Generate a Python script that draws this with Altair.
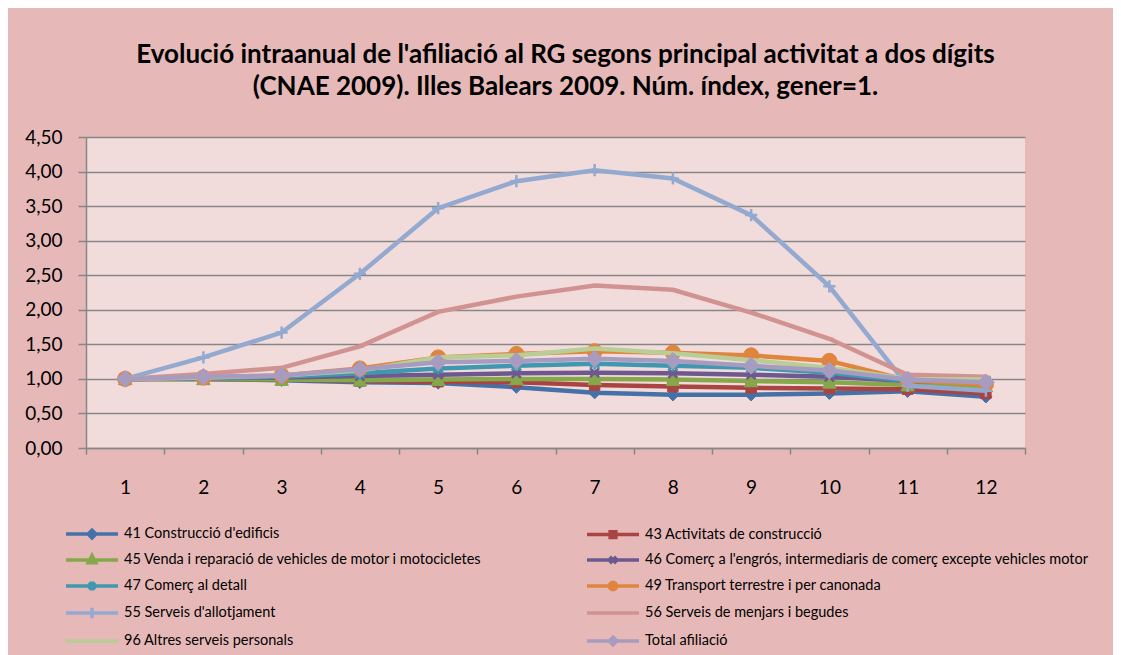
import altair as alt
import pandas as pd

months = [str(m) for m in range(1, 13)]

series_names = [
    "41 Construcció d'edificis",
    "43 Activitats de construcció",
    "45 Venda i reparació de vehicles de motor i motocicletes",
    "46 Comerç a l'engrós, intermediaris de comerç excepte vehicles motor",
    "47 Comerç al detall",
    "49 Transport terrestre i per canonada",
    "55 Serveis d'allotjament",
    "56 Serveis de menjars i begudes",
    "96 Altres serveis personals",
    "Total afiliació",
]

s41 = [1.00, 1.00, 0.98, 0.95, 0.94, 0.88, 0.80, 0.77, 0.77, 0.79, 0.82, 0.74]
s43 = [1.00, 1.00, 0.99, 0.97, 0.96, 0.95, 0.91, 0.89, 0.87, 0.86, 0.85, 0.79]
s45 = [1.00, 1.00, 0.99, 0.98, 0.99, 1.00, 1.00, 0.99, 0.97, 0.95, 0.91, 0.90]
s46 = [1.00, 1.01, 1.02, 1.04, 1.06, 1.08, 1.09, 1.08, 1.06, 1.03, 0.97, 0.95]
s47 = [1.00, 1.01, 1.03, 1.08, 1.15, 1.19, 1.22, 1.19, 1.16, 1.09, 0.97, 0.97]
s49 = [1.00, 1.02, 1.05, 1.15, 1.31, 1.36, 1.40, 1.38, 1.34, 1.26, 0.98, 0.92]
s55 = [1.00, 1.31, 1.67, 2.52, 3.47, 3.86, 4.02, 3.90, 3.37, 2.34, 0.90, 0.83]
s56 = [1.00, 1.07, 1.16, 1.47, 1.97, 2.19, 2.35, 2.29, 1.96, 1.58, 1.06, 1.03]
s96 = [1.00, 1.02, 1.05, 1.12, 1.31, 1.34, 1.44, 1.37, 1.27, 1.16, 1.00, 0.99]
total = [1.00, 1.03, 1.05, 1.14, 1.24, 1.26, 1.29, 1.26, 1.19, 1.12, 0.99, 0.95]

series_values = [s41, s43, s45, s46, s47, s49, s55, s56, s96, total]

colors = ["#4472A8", "#A94442", "#86A74A", "#6D5890", "#4098B0",
          "#E0853E", "#93A9CF", "#D19392", "#B9CD96", "#A89BC0"]

y_ticks = [0, 0.5, 1.0, 1.5, 2.0, 2.5, 3.0, 3.5, 4.0, 4.5]

# marker style per series on the plot: (shape, filled, size)
markers = [
    ("diamond", True, 150),
    ("square", True, 110),
    ("triangle-up", True, 180),
    ("M-1,-1L1,1M-1,1L1,-1", False, 80),
    ("M-1,-1L1,1M-1,1L1,-1M0,-1.3L0,1.3", False, 80),
    ("circle", True, 230),
    ("M0,-1L0,1M-1,0L1,0", False, 150),
    ("M-1,0L1,0", False, 70),
    (None, True, 0),
    ("diamond", True, 280),
]

# legend symbols: line segment plus a small marker
LINE = "M-2,0L2,0"
legend_shapes = [
    LINE + "M0,-0.3L0.3,0L0,0.3L-0.3,0Z",
    LINE + "M-0.22,-0.22L0.22,-0.22L0.22,0.22L-0.22,0.22Z",
    LINE + "M0,-0.35L0.3,0.22L-0.3,0.22Z",
    LINE + "M-0.25,-0.25L0.25,0.25M-0.25,0.25L0.25,-0.25",
    LINE + "M-0.25,-0.25L0.25,0.25M-0.25,0.25L0.25,-0.25M0,-0.35L0,0.35",
    LINE + "M-0.28,0A0.28,0.28 0 1,0 0.28,0A0.28,0.28 0 1,0 -0.28,0Z",
    LINE + "M0,-0.4L0,0.4",
    LINE,
    LINE,
    LINE + "M0,-0.3L0.3,0L0,0.3L-0.3,0Z",
]

rows = []
for name, vals in zip(series_names, series_values):
    for m, v in zip(months, vals):
        rows.append({"series": name, "month": m, "value": v})
df = pd.DataFrame(rows)

FONT = "Lato"
GRID = "#868686"

x_enc = alt.X(
    "month:N",
    sort=months,
    scale=alt.Scale(type="band", paddingInner=0, paddingOuter=0),
    axis=alt.Axis(title=None, labelAngle=0, tickBand="extent", tickSize=6,
                  labelPadding=24, labelFontSize=19, labelFont=FONT,
                  labelColor="black", tickColor=GRID, domainColor=GRID,
                  domainWidth=1.5, tickWidth=1.5, grid=False),
)
y_enc = alt.Y(
    "value:Q",
    scale=alt.Scale(domain=[0, 4.5], nice=False),
    axis=alt.Axis(title=None, values=y_ticks,
                  labelExpr="replace(format(datum.value, '.2f'), '.', ',')",
                  labelFontSize=19, labelFont=FONT, labelColor="black",
                  labelPadding=16, tickSize=8, tickColor=GRID, tickWidth=1.5,
                  domainColor=GRID, domainWidth=1.5, gridColor=GRID, gridWidth=1.5),
)

legend = alt.Legend(
    title=None, orient="none", legendX=-9, legendY=382, columns=2,
    direction="horizontal",
    columnPadding=98, rowPadding=-2.5,
    symbolSize=676, symbolStrokeWidth=3.5, symbolOpacity=1,
    labelFont=FONT, labelFontSize=14.5, labelColor="black", labelLimit=600,
    symbolOffset=0, labelOffset=17,
)

layers = []
for name, col, (shape, filled, size) in zip(series_names, colors, markers):
    base = alt.Chart(df).transform_filter(alt.datum.series == name)
    line = base.mark_line(strokeWidth=4.5, color=col).encode(x=x_enc, y=y_enc)
    layers.append(line)
    if shape is not None:
        if filled:
            pt = base.mark_point(shape=shape, filled=True, size=size, opacity=1,
                                 color=col, stroke=col, strokeWidth=1)
        else:
            pt = base.mark_point(shape=shape, filled=False, size=size, opacity=1,
                                 color=col, strokeWidth=2.5)
        layers.append(pt.encode(x=x_enc, y=y_enc))

# invisible layer that only carries the legend
legend_layer = alt.Chart(df).mark_point(filled=True, opacity=0).encode(
    x=x_enc, y=y_enc,
    color=alt.Color("series:N", scale=alt.Scale(domain=series_names, range=colors), legend=legend),
    stroke=alt.Stroke("series:N", scale=alt.Scale(domain=series_names, range=colors), legend=legend),
    shape=alt.Shape("series:N", scale=alt.Scale(domain=series_names, range=legend_shapes), legend=legend),
)
layers.append(legend_layer)

chart = alt.layer(*layers).properties(
    width=939,
    height=311,
    padding={"left": 78, "top": 129, "right": 88, "bottom": 207},
    autosize=alt.AutoSizeParams(type="none"),
    background="#E6B9B8",
    title=alt.TitleParams(
        ["Evolució intraanual de l'afiliació  al RG segons principal activitat a dos dígits",
         "(CNAE 2009). Illes Balears 2009. Núm. índex, gener=1."],
        font=FONT, fontSize=26, fontWeight="bold", color="black",
        anchor="middle", lineHeight=32, offset=28, dx=10,
    ),
).configure_view(fill="#F2DCDB", stroke=None)

chart.save("out.html", embed_options={"renderer": "svg", "actions": False})
